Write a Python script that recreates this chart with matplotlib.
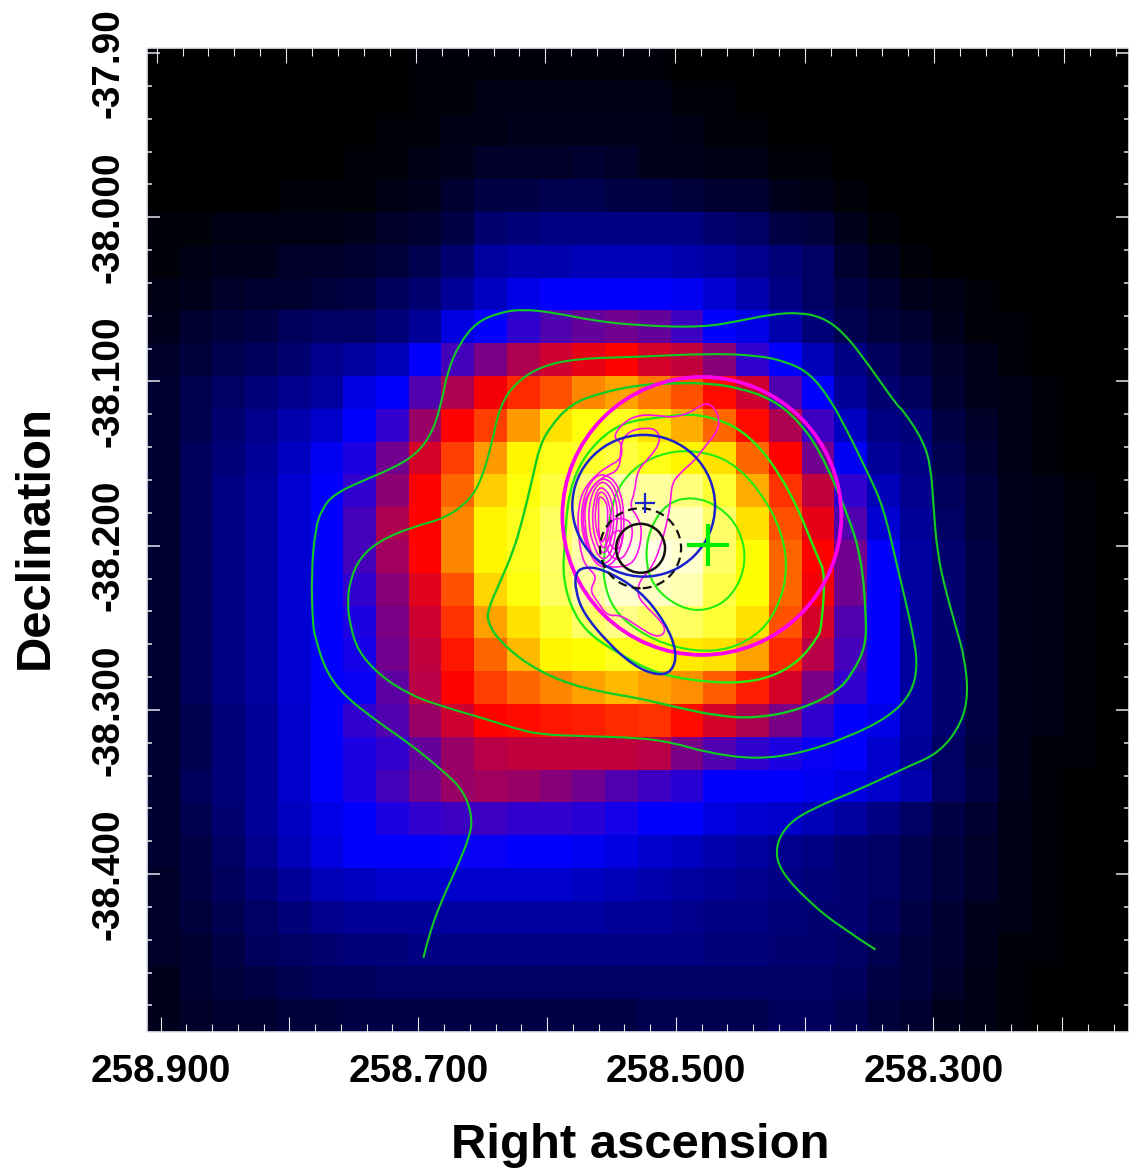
import numpy as np
import matplotlib
matplotlib.use('Agg')
import matplotlib.pyplot as plt
from matplotlib.colors import LinearSegmentedColormap
from matplotlib.patches import Ellipse, PathPatch
from matplotlib.path import Path
from matplotlib.ticker import MultipleLocator

plt.rcParams['font.family'] = ['Liberation Sans', 'DejaVu Sans']
plt.rcParams['font.weight'] = 'bold'

# counts map, percent of the colour scale, rows from north to south
counts = [
    [0,0,0,0,0,0,0,0,1,1,1,1,1,1,1,1,0,0,0,0,0,0,0,0,0,0,0,0,0,0],
    [0,0,0,0,0,0,0,0,1,1,2,2,2,2,2,2,1,1,0,0,0,0,0,0,0,0,0,0,0,0],
    [0,0,0,0,0,0,0,1,1,2,2,3,3,3,3,3,2,1,1,0,0,0,0,0,0,0,0,0,0,0],
    [0,0,0,0,0,0,1,1,2,3,4,4,4,5,4,3,3,2,2,1,1,0,0,0,0,0,0,0,0,0],
    [0,0,0,0,1,1,1,2,3,5,7,7,8,8,7,7,6,5,5,3,2,1,0,0,0,0,0,0,0,0],
    [1,1,2,2,2,2,3,4,5,7,11,12,13,13,13,13,13,11,10,7,6,3,1,0,0,0,0,0,0,0],
    [1,2,3,3,4,4,5,6,8,11,16,17,17,18,18,18,17,16,14,12,10,5,3,1,0,0,0,0,0,0],
    [2,3,4,5,5,6,7,9,11,15,19,23,25,25,25,25,24,21,17,13,10,7,5,3,2,1,0,0,0,0],
    [3,5,6,7,9,10,10,12,15,22,25,30,33,35,36,35,31,25,23,17,12,8,6,5,3,1,1,0,0,0],
    [4,6,8,9,11,14,16,18,25,32,37,42,45,48,50,46,44,38,30,25,18,13,9,7,4,3,1,0,0,0],
    [5,8,10,12,14,16,22,25,33,42,49,54,58,63,66,62,58,51,45,33,25,15,11,9,5,3,2,1,0,0],
    [5,8,11,14,17,20,25,30,40,50,56,65,72,76,78,72,67,60,51,42,31,19,13,12,7,4,2,1,0,0],
    [5,9,12,15,19,24,28,36,46,56,65,74,77,79,81,77,74,72,60,50,36,24,15,13,8,5,2,1,0,0],
    [5,9,13,16,21,25,30,39,50,60,70,76,81,87,92,90,87,80,67,55,44,30,18,14,9,6,3,2,1,0],
    [5,9,13,16,21,25,32,42,50,63,74,78,84,90,95,94,93,85,72,58,48,33,21,15,10,6,3,2,1,0],
    [5,9,13,16,21,25,32,41,50,63,74,78,85,92,97,97,95,85,75,60,50,36,25,16,11,7,3,2,1,0],
    [5,9,13,16,21,25,30,38,47,58,71,76,84,91,95,94,92,82,75,60,49,36,25,16,11,7,3,2,1,0],
    [5,9,13,16,21,25,28,37,45,55,66,72,79,85,88,85,84,80,72,58,46,33,25,16,11,7,3,2,1,0],
    [5,9,13,16,21,25,27,36,44,52,60,68,74,75,78,78,73,72,66,54,43,32,25,16,11,7,3,2,1,0],
    [5,9,13,16,21,25,26,34,43,50,56,60,63,66,68,66,64,59,53,46,37,30,25,16,11,7,3,2,1,0],
    [5,8,12,15,20,25,30,33,40,45,50,51,52,53,54,55,51,46,42,37,30,25,23,16,11,7,3,2,1,0],
    [5,8,12,15,20,25,28,30,35,40,43,44,44,44,44,43,37,33,30,28,26,25,20,15,10,6,3,1,1,0],
    [5,9,12,15,20,25,28,32,36,40,41,40,38,36,33,31,29,25,25,25,24,22,20,17,10,7,3,1,0,0],
    [5,8,11,15,19,23,25,28,30,31,31,30,30,29,27,25,25,22,21,20,18,16,13,10,7,5,2,1,0,0],
    [5,7,10,14,18,22,25,25,25,26,26,25,25,24,22,20,19,17,16,14,13,11,10,8,6,4,2,1,0,0],
    [4,7,9,12,15,18,19,20,20,20,20,20,20,19,18,17,16,15,14,13,12,11,10,8,6,4,2,1,0,0],
    [4,6,8,10,12,14,15,15,15,16,16,16,16,16,15,15,14,13,13,12,11,11,9,7,5,3,2,1,0,0],
    [4,5,7,9,10,11,12,12,13,13,13,13,13,13,13,13,13,12,12,11,11,10,8,6,5,3,1,1,0,0],
    [3,5,6,7,8,9,9,10,10,10,10,10,10,10,10,10,10,10,10,10,10,9,7,6,4,2,1,0,0,0],
    [3,4,5,5,6,6,7,7,7,7,7,7,7,7,7,8,8,8,8,9,9,8,6,5,3,2,1,0,0,0],
]

# green contours, the outer one is open at both ends
g1_ra = [258.696,258.692,258.683,258.670,258.660,258.658,258.665,258.681,258.706,258.732,258.758,258.772,258.780,258.782,258.783,258.780,258.775,258.766,258.745,258.720,258.701,258.689,258.682,258.677,258.668,258.655,258.637,258.619,258.595,258.564,258.528,258.479,258.450,258.425,258.404,258.386,258.370,258.352,258.328,258.324,258.308,258.302,258.300,258.297,258.290,258.282,258.276,258.273,258.278,258.295,258.321,258.359,258.394,258.414,258.423,258.419,258.398,258.373,258.345]
g1_dec = [-38.451,-38.438,-38.418,-38.396,-38.377,-38.365,-38.349,-38.337,-38.321,-38.307,-38.291,-38.276,-38.256,-38.247,-38.217,-38.190,-38.178,-38.169,-38.161,-38.153,-38.144,-38.131,-38.113,-38.093,-38.077,-38.064,-38.058,-38.056,-38.058,-38.063,-38.066,-38.067,-38.063,-38.059,-38.058,-38.061,-38.070,-38.088,-38.115,-38.117,-38.136,-38.152,-38.176,-38.205,-38.229,-38.251,-38.268,-38.290,-38.308,-38.326,-38.335,-38.349,-38.360,-38.370,-38.384,-38.398,-38.416,-38.432,-38.446]

g2_ra = [258.528,258.577,258.606,258.626,258.637,258.643,258.651,258.660,258.678,258.706,258.730,258.745,258.753,258.755,258.753,258.747,258.730,258.706,258.681,258.650,258.626,258.606,258.572,258.528,258.502,258.476,258.440,258.406,258.367,258.334,258.317,258.312,258.317,258.321,258.328,258.339,258.352,258.367,258.380,258.396,258.414,258.437,258.476]
g2_dec = [-38.085,-38.086,-38.091,-38.102,-38.116,-38.138,-38.160,-38.172,-38.183,-38.189,-38.197,-38.207,-38.221,-38.235,-38.248,-38.264,-38.279,-38.291,-38.298,-38.305,-38.311,-38.315,-38.316,-38.317,-38.320,-38.326,-38.330,-38.327,-38.317,-38.304,-38.290,-38.272,-38.250,-38.236,-38.213,-38.176,-38.154,-38.130,-38.111,-38.095,-38.088,-38.084,-38.083]

g3_ra = [258.528,258.559,258.582,258.598,258.606,258.611,258.619,258.626,258.637,258.646,258.646,258.637,258.616,258.588,258.559,258.528,258.502,258.466,258.437,258.404,258.375,258.363,258.353,258.352,258.356,258.367,258.388,258.406,258.425,258.450,258.476,258.502]
g3_dec = [-38.102,-38.107,-38.114,-38.128,-38.140,-38.158,-38.184,-38.203,-38.223,-38.239,-38.247,-38.258,-38.272,-38.283,-38.289,-38.293,-38.298,-38.304,-38.305,-38.300,-38.289,-38.278,-38.262,-38.245,-38.207,-38.180,-38.142,-38.123,-38.111,-38.104,-38.101,-38.101]

g4_ra = [258.481,258.443,258.411,258.390,258.384,258.387,258.390,258.404,258.425,258.453,258.489,258.518,258.546,258.569,258.582,258.588,258.586,258.584,258.576,258.561,258.541,258.515]
g4_dec = [-38.119,-38.131,-38.166,-38.207,-38.217,-38.250,-38.256,-38.270,-38.280,-38.284,-38.282,-38.277,-38.265,-38.253,-38.237,-38.217,-38.197,-38.172,-38.152,-38.136,-38.125,-38.122]

g5_ra = [258.484,258.507,258.528,258.543,258.550,258.555,258.557,258.549,258.528,258.502,258.471,258.445,258.425,258.413,258.417,258.435,258.458]
g5_dec = [-38.142,-38.143,-38.150,-38.162,-38.176,-38.201,-38.219,-38.239,-38.253,-38.262,-38.265,-38.259,-38.245,-38.219,-38.192,-38.166,-38.148]

g6_ra = [258.487,258.507,258.520,258.524,258.518,258.497,258.476,258.456,258.445,258.450,258.466]
g6_dec = [-38.170,-38.174,-38.189,-38.207,-38.225,-38.238,-38.240,-38.231,-38.211,-38.190,-38.176]

# blue lobe below the blue circle
lobe_ra = [258.578,258.572,258.557,258.528,258.508,258.499,258.503,258.515,258.533,258.553,258.572,258.578]
lobe_dec = [-38.217,-38.213,-38.214,-38.227,-38.247,-38.265,-38.277,-38.279,-38.273,-38.259,-38.241,-38.227]

# thin magenta contours
m1_ra = [258.484,258.476,258.470,258.466,258.468,258.479,258.484,258.497,258.503,258.504,258.506,258.512,258.519,258.528,258.530,258.526,258.510,258.508,258.515,258.528,258.543,258.553,258.561,258.567,258.561,258.569,258.573,258.576,258.576,258.572,258.561,258.551,258.542,258.542,258.549,258.541,258.528,258.510,258.502,258.489]
m1_dec = [-38.116,-38.113,-38.116,-38.123,-38.131,-38.141,-38.147,-38.156,-38.162,-38.172,-38.183,-38.201,-38.214,-38.221,-38.229,-38.235,-38.247,-38.253,-38.256,-38.250,-38.242,-38.243,-38.234,-38.227,-38.219,-38.213,-38.207,-38.192,-38.178,-38.166,-38.156,-38.151,-38.147,-38.137,-38.134,-38.125,-38.120,-38.121,-38.122,-38.119]

m2_ra = [258.536,258.522,258.514,258.512,258.520,258.530,258.532,258.536,258.529,258.526,258.530,258.538,258.557,258.567,258.572,258.572,258.567,258.557,258.543,258.543]
m2_dec = [-38.130,-38.128,-38.130,-38.137,-38.146,-38.154,-38.168,-38.176,-38.183,-38.192,-38.207,-38.213,-38.213,-38.204,-38.190,-38.176,-38.166,-38.158,-38.154,-38.137]

m10_ra = [258.562,258.550,258.543,258.540,258.541,258.548,258.559,258.568,258.574,258.572]
m10_dec = [-38.156,-38.158,-38.167,-38.181,-38.198,-38.211,-38.214,-38.204,-38.188,-38.170]
m3_ra = [258.560,258.551,258.545,258.542,258.543,258.550,258.559,258.567,258.571,258.570]
m3_dec = [-38.159,-38.160,-38.169,-38.181,-38.197,-38.209,-38.212,-38.203,-38.187,-38.171]
m4_ra = [258.560,258.553,258.547,258.545,258.547,258.551,258.558,258.564,258.568,258.567]
m4_dec = [-38.161,-38.162,-38.170,-38.181,-38.195,-38.206,-38.209,-38.200,-38.187,-38.172]
m5_ra = [258.560,258.554,258.550,258.548,258.549,258.553,258.557,258.562,258.565,258.564]
m5_dec = [-38.164,-38.166,-38.172,-38.182,-38.193,-38.203,-38.205,-38.198,-38.186,-38.174]
m6_ra = [258.560,258.555,258.552,258.550,258.551,258.554,258.557,258.560,258.563,258.562]
m6_dec = [-38.167,-38.168,-38.174,-38.183,-38.192,-38.200,-38.202,-38.195,-38.185,-38.175]
m7_ra = [258.560,258.556,258.553,258.553,258.553,258.556,258.558,258.560,258.560,258.560]
m7_dec = [-38.170,-38.171,-38.176,-38.183,-38.191,-38.197,-38.198,-38.192,-38.184,-38.177]
m8_ra = [258.536,258.533,258.537,258.543,258.551,258.555,258.553,258.549]
m8_dec = [-38.184,-38.192,-38.203,-38.209,-38.207,-38.198,-38.190,-38.183]
m9_ra = [258.543,258.541,258.545,258.550,258.552,258.549]
m9_dec = [-38.190,-38.197,-38.203,-38.201,-38.197,-38.192]

# source regions: centre ra, centre dec, width, height (degrees)
magenta_region = (258.4798, -38.1819, 0.2166, 0.1693)
blue_region = (258.5250, -38.1757, 0.1108, 0.0863)
black_region = (258.5274, -38.2016, 0.0380, 0.0298)
dashed_region = (258.5274, -38.2016, 0.0629, 0.0487)
green_cross = (258.4751, -38.1996)
blue_cross = (258.5240, -38.1740)

ra_major = [258.9, 258.8, 258.7, 258.6, 258.5, 258.4, 258.3, 258.2]
ra_labels = ['258.900', '', '258.700', '', '258.500', '', '258.300', '']
dec_major = [-37.9, -38.0, -38.1, -38.2, -38.3, -38.4]
dec_labels = ['', '-38.000', '-38.100', '-38.200', '-38.300', '-38.400']

ra_lim = (258.9106, 258.1482)
ra_lim_top = (258.9074, 258.1497)
dec_lim = (-38.4962, -37.8969)


def curve(ra, dec, closed=True):
    # quadratic segments through the midpoints, keeps the contours round
    pts = np.column_stack([ra, dec])
    if closed:
        mids = (pts + np.roll(pts, -1, axis=0)) / 2
        verts = [mids[-1]]
        codes = [Path.MOVETO]
        for p, m in zip(pts, mids):
            verts += [p, m]
            codes += [Path.CURVE3, Path.CURVE3]
    else:
        verts = [pts[0]]
        codes = [Path.MOVETO]
        for i in range(1, len(pts) - 1):
            m = pts[i + 1] if i == len(pts) - 2 else (pts[i] + pts[i + 1]) / 2
            verts += [pts[i], m]
            codes += [Path.CURVE3, Path.CURVE3]
    return Path(verts, codes)


fig = plt.figure(figsize=(11.29, 11.72), dpi=100)
ax = fig.add_axes([147 / 1129, 1 - 1032 / 1172, 982 / 1129, 984 / 1172])

ds9_b = LinearSegmentedColormap.from_list('ds9_b', ['#000000', '#0000ff', '#ff0000', '#ffff00', '#ffffff'])
ax.imshow(np.array(counts), cmap=ds9_b, vmin=0, vmax=100, aspect='auto', interpolation='nearest',
          extent=(ra_lim[0], ra_lim[1], dec_lim[0], dec_lim[1]), origin='upper')
ax.set_xlim(ra_lim)
ax.set_ylim(dec_lim)

green = '#11cc22'
bright = '#22ee11'
ax.add_patch(PathPatch(curve(g1_ra, g1_dec, closed=False), fc='none', ec=green, lw=1.5))
ax.add_patch(PathPatch(curve(g2_ra, g2_dec), fc='none', ec=green, lw=1.5))
ax.add_patch(PathPatch(curve(g3_ra, g3_dec), fc='none', ec=green, lw=1.7))
ax.add_patch(PathPatch(curve(g4_ra, g4_dec), fc='none', ec=bright, lw=1.7))
ax.add_patch(PathPatch(curve(g5_ra, g5_dec), fc='none', ec=bright, lw=1.5))
ax.add_patch(PathPatch(curve(g6_ra, g6_dec), fc='none', ec=bright, lw=1.5))

for r, d in [(m1_ra, m1_dec), (m2_ra, m2_dec), (m10_ra, m10_dec), (m3_ra, m3_dec), (m4_ra, m4_dec),
             (m5_ra, m5_dec), (m6_ra, m6_dec), (m7_ra, m7_dec), (m8_ra, m8_dec), (m9_ra, m9_dec)]:
    ax.add_patch(PathPatch(curve(r, d), fc='none', ec='#ff11e8', lw=1.2))

ra0, dec0, w, h = magenta_region
ax.add_patch(Ellipse((ra0, dec0), w, h, fc='none', ec='#ff00ee', lw=2.7))
ra0, dec0, w, h = blue_region
ax.add_patch(Ellipse((ra0, dec0), w, h, fc='none', ec='#1a22cc', lw=1.8))
ax.add_patch(PathPatch(curve(lobe_ra, lobe_dec), fc='none', ec='#1a22cc', lw=1.8))
ra0, dec0, w, h = black_region
ax.add_patch(Ellipse((ra0, dec0), w, h, fc='none', ec='#111111', lw=1.8))
ra0, dec0, w, h = dashed_region
ax.add_patch(Ellipse((ra0, dec0), w, h, fc='none', ec='#111111', lw=1.6, linestyle=(0, (4, 2.4))))

ax.plot(*green_cross, '+', color='#00ee00', ms=30, mew=3)
ax.plot(*blue_cross, '+', color='#1a22cc', ms=14, mew=1.6)

# ticks
tick_col = '#e6e6ee'
ax.set_xticks(ra_major, labels=ra_labels)
ax.set_yticks(dec_major, labels=dec_labels)
ax.xaxis.set_minor_locator(MultipleLocator(0.02))
ax.yaxis.set_minor_locator(MultipleLocator(0.02))
ax.tick_params(axis='x', which='major', direction='in', length=10.5, width=0.8, color=tick_col, pad=15.5, labelsize=27.9)
ax.tick_params(axis='x', which='minor', direction='in', length=5.5, width=0.8, color=tick_col)
ax.tick_params(axis='y', which='major', direction='in', length=9.2, width=1.1, color=tick_col, pad=15, labelsize=27.9, right=True)
ax.tick_params(axis='y', which='minor', direction='in', length=3.8, width=1.1, color=tick_col, right=True)
for lab in ax.get_yticklabels():
    lab.set_rotation(90)
    lab.set_va('center')
for s in ax.spines.values():
    s.set_color(tick_col)
    s.set_linewidth(1.2)

# the top axis has a slightly different scale from the bottom one
top = ax.twiny()
top.set_xlim(ra_lim_top)
top.set_xticks(ra_major, labels=[''] * len(ra_major))
top.xaxis.set_minor_locator(MultipleLocator(0.02))
top.tick_params(which='major', direction='in', length=10.5, width=0.8, color=tick_col)
top.tick_params(which='minor', direction='in', length=5.5, width=0.8, color=tick_col)
for s in top.spines.values():
    s.set_visible(False)

fig.text(108 / 1129, 1 - 63 / 1172, '-37.90', rotation=90, ha='center', va='center', fontsize=27.9)
fig.text(640 / 1129, 1 - 1145 / 1172, 'Right ascension', ha='center', va='center', fontsize=35.3)
fig.text(35 / 1129, 1 - 537 / 1172, 'Declination', rotation=90, ha='center', va='center', fontsize=35.3)

fig.savefig('out.png', dpi=100)
